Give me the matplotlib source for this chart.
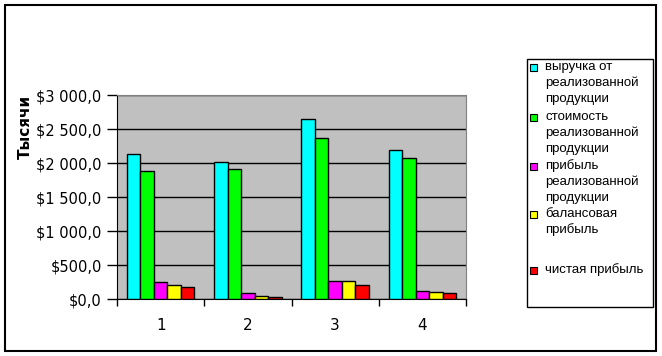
import matplotlib
matplotlib.use("Agg")
import matplotlib.pyplot as plt
from matplotlib.patches import Rectangle
import numpy as np

# ----- data -----
kategorii = [1, 2, 3, 4]
vyruchka = [2127, 2010, 2642, 2186]
stoimost = [1882, 1907, 2363, 2069]
pribyl_real = [245, 83, 260, 113]
balans = [201, 39, 260, 98]
chistaya = [172, 25, 201, 83]

serii = [vyruchka, stoimost, pribyl_real, balans, chistaya]
nazvaniya = ["выручка от\nреализованной\nпродукции",
             "стоимость\nреализованной\nпродукции",
             "прибыль\nреализованной\nпродукции",
             "балансовая\nприбыль",
             "чистая прибыль"]
tsveta = ["#00FFFF", "#00FF00", "#FF00FF", "#FFFF00", "#FF0000"]
y_ticks = [0, 500, 1000, 1500, 2000, 2500, 3000]

W, H = 662, 356
fig = plt.figure(figsize=(W / 100, H / 100), dpi=100)
ax = fig.add_axes([117 / W, 1 - 299 / H, (466 - 117) / W, (299 - 95) / H])
ax.set_facecolor("#C0C0C0")

x = np.array(kategorii, dtype=float)
w = 0.155
for i, (vals, c) in enumerate(zip(serii, tsveta)):
    ax.bar(x + (i - 2) * w, vals, w, color=c, edgecolor="black", linewidth=1, zorder=3)

ax.set_xlim(0.5, 4.5)
ax.set_ylim(0, 3000)
ax.set_yticks(y_ticks)
ax.set_yticklabels(["$" + f"{v:,.1f}".replace(",", " ").replace(".", ",") for v in y_ticks],
                   fontsize=10.5)
ax.yaxis.grid(True, color="black", linewidth=1, zorder=1)
ax.set_axisbelow(True)

ax.set_xticks(np.arange(0.5, 4.6, 1.0))
ax.set_xticklabels([])
ax.set_xticks(x, minor=True)
ax.set_xticklabels([str(k) for k in kategorii], minor=True, fontsize=11)
ax.tick_params(axis="x", which="major", direction="out", length=5, width=1)
ax.tick_params(axis="x", which="minor", length=0, pad=14)
ax.tick_params(axis="y", direction="out", length=7, width=1, pad=4)

for s in ["top", "right"]:
    ax.spines[s].set_color("#808080")
for s in ["left", "bottom"]:
    ax.spines[s].set_color("black")

fig.text(25 / W, 1 - 127 / H, "Тысячи", rotation=90, fontsize=11, fontweight="bold",
         ha="center", va="center")

# легенда
fig.patches.append(Rectangle((527 / W, 1 - 307 / H), (653 - 527) / W, (307 - 59) / H,
                             transform=fig.transFigure, facecolor="white",
                             edgecolor="black", linewidth=1))
starty = [67, 117, 166, 214, 270]
for y0, lab, c in zip(starty, nazvaniya, tsveta):
    fig.patches.append(Rectangle((530 / W, 1 - (y0 + 3.5) / H), 7 / W, 7 / H,
                                 transform=fig.transFigure, facecolor=c,
                                 edgecolor="black", linewidth=0.8))
    for j, line in enumerate(lab.split("\n")):
        fig.text(545 / W, 1 - (y0 + 16 * j) / H, line, fontsize=9.5,
                 family="Liberation Sans", ha="left", va="center")

# рамка
fig.patches.append(Rectangle((5 / W, 1 - 351 / H), (656 - 5) / W, (351 - 5) / H,
                             transform=fig.transFigure, facecolor="none",
                             edgecolor="black", linewidth=1.5))

fig.savefig("out.png", dpi=100)
